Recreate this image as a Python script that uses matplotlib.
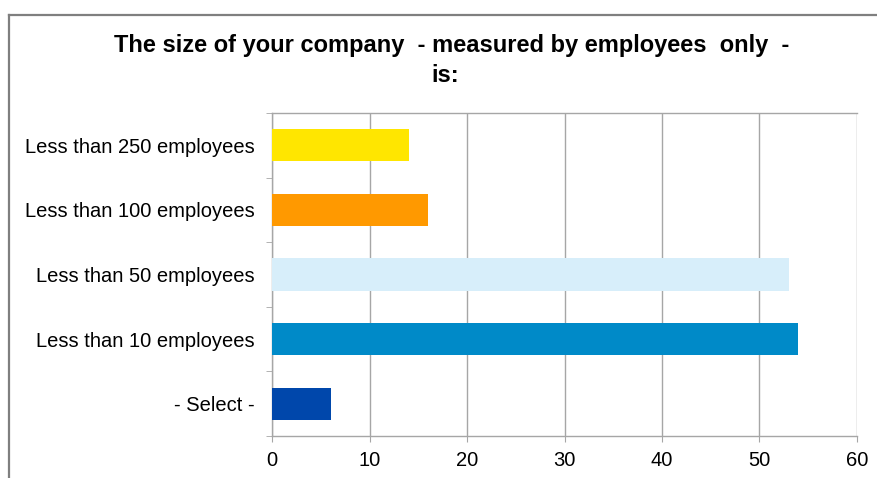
import matplotlib.pyplot as plt
from matplotlib.lines import Line2D
import numpy as np

plt.rcParams['font.family'] = ['Liberation Sans', 'DejaVu Sans']

categories = ['- Select -', 'Less than 10 employees', 'Less than 50 employees',
              'Less than 100 employees', 'Less than 250 employees']
values = [6, 54, 53, 16, 14]
colors = ['#0047AB', '#008AC8', '#D7EEFA', '#FF9900', '#FFE600']
x_ticks = [0, 10, 20, 30, 40, 50, 60]

fig = plt.figure(figsize=(8.78, 4.78), dpi=100)
ax = fig.add_axes([272 / 878, 42 / 478, 585 / 878, 323 / 478])

y = np.arange(len(categories))
ax.barh(y, values, height=0.5, color=colors, zorder=3)

ax.set_xlim(0, 60)
ax.set_ylim(-0.5, len(categories) - 0.5)
ax.set_xticks(x_ticks)
ax.set_yticks(y)
ax.set_yticklabels(categories)
ax.set_yticks(np.arange(-0.5, len(categories)), minor=True)

grid_c = '#A6A6A6'
ax.grid(axis='x', color=grid_c, linewidth=1.0, zorder=0)
for s in ['left', 'bottom', 'top']:
    ax.spines[s].set_color(grid_c)
    ax.spines[s].set_linewidth(1.0)
ax.spines['right'].set_visible(False)

ax.tick_params(axis='y', which='major', length=0, pad=12.5, labelsize=14.5)
ax.tick_params(axis='y', which='minor', length=4.5, color=grid_c, direction='out')
ax.tick_params(axis='x', length=4.5, color=grid_c, pad=6, labelsize=14.5)

fig.text(0.514, 0.904, 'The size of your company  - measured by employees  only  -',
         ha='center', va='center', fontsize=17, fontweight='bold')
fig.text(0.507, 0.842, 'is:', ha='center', va='center', fontsize=17, fontweight='bold')

# outer frame
fx = 9 / 878
fy = 1 - 15 / 478
fig.add_artist(Line2D([fx, fx], [0, fy], transform=fig.transFigure, color='#7F7F7F', lw=1.6))
fig.add_artist(Line2D([fx, 1], [fy, fy], transform=fig.transFigure, color='#7F7F7F', lw=1.6))

plt.savefig('out.png', dpi=100)
